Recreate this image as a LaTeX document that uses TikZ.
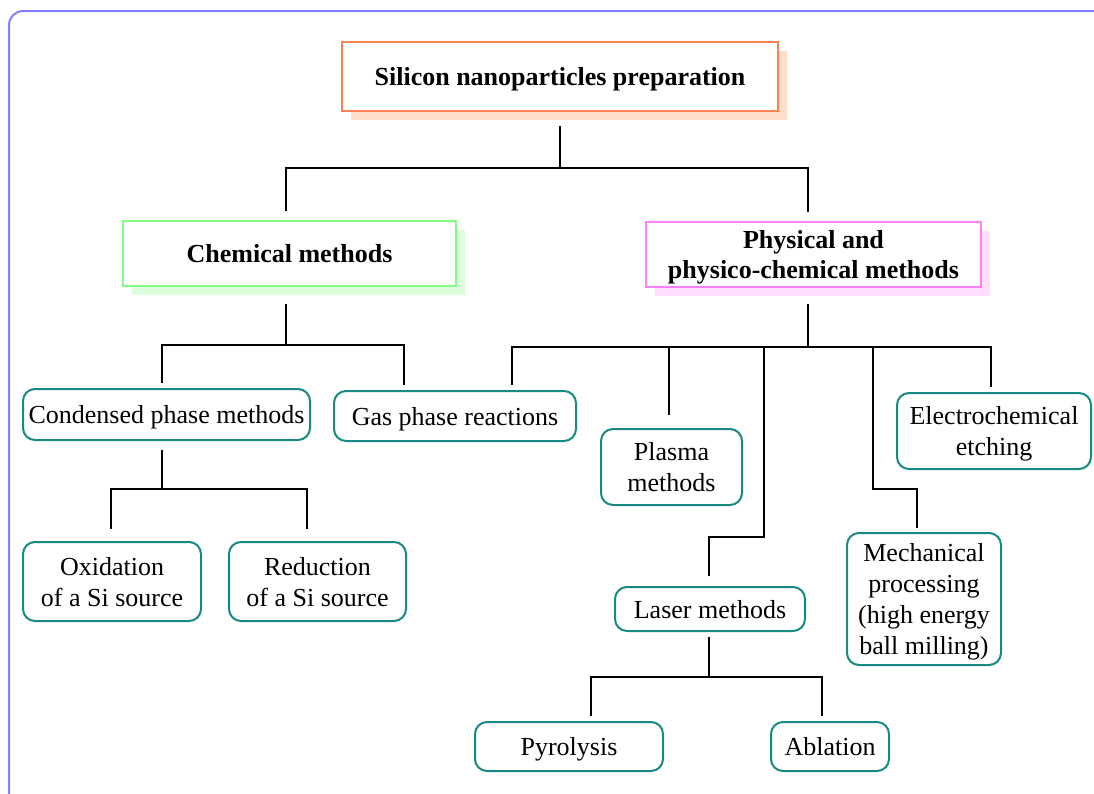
\documentclass[tikz,border=0pt]{standalone}
\usepackage{fontspec}
\setmainfont{Liberation Serif}
\usetikzlibrary{shadows}

\definecolor{framecol}{HTML}{8080FF}
\definecolor{topcol}{HTML}{FF8050}
\definecolor{topsh}{HTML}{FFDCCC}
\definecolor{chemcol}{HTML}{80FF80}
\definecolor{chemsh}{HTML}{DDFFDD}
\definecolor{physcol}{HTML}{FF80FF}
\definecolor{physsh}{HTML}{FFDDFF}
\definecolor{leafcol}{HTML}{178A85}

\tikzset{
  head/.style={draw, line width=2pt, fill=white, align=center, inner sep=0pt, text depth=0pt,
    font=\fontsize{26}{30}\selectfont\bfseries},
  leaf/.style={draw=leafcol, line width=2pt, rounded corners=12pt, align=center, inner sep=0pt, text depth=0pt},
  link/.style={line width=2.2pt},
  frame/.style={draw=framecol, line width=2pt, rounded corners=14pt}
}

\begin{document}
\begin{tikzpicture}[x=1pt,y=-1pt,font=\fontsize{26}{31}\selectfont]
            \useasboundingbox (0,0) rectangle (1094,793);
            \draw[frame] (9,11) rectangle (1140,840);

            \node[head,draw=topcol,drop shadow={shadow xshift=9pt,shadow yshift=-9pt,fill=topsh,opacity=1},
                minimum width=436pt,minimum height=69pt] (A) at (560,76.5) {Silicon nanoparticles preparation};
            \node[head,draw=chemcol,drop shadow={shadow xshift=9pt,shadow yshift=-9pt,fill=chemsh,opacity=1},
                minimum width=333pt,minimum height=65pt] (B) at (289.5,253.5) {Chemical methods};
            \node[head,draw=physcol,drop shadow={shadow xshift=9pt,shadow yshift=-9pt,fill=physsh,opacity=1},
                minimum width=335pt,minimum height=65pt] (C) at (813.5,254.5) {Physical and\\physico-chemical methods};

            \node[leaf,minimum width=287pt,minimum height=51pt] (D) at (166.5,414.5) {Condensed phase methods};
            \node[leaf,minimum width=242pt,minimum height=50pt] (E) at (455,416) {Gas phase reactions};
            \node[leaf,minimum width=141pt,minimum height=76pt] (F) at (671.5,467) {Plasma\\methods};
            \node[leaf,minimum width=194pt,minimum height=76pt] (G) at (994,431) {Electrochemical\\etching};
            \node[leaf,minimum width=178pt,minimum height=79pt] (H) at (112,581.5) {Oxidation\\of a Si source};
            \node[leaf,minimum width=177pt,minimum height=79pt] (I) at (317.5,581.5) {Reduction\\of a Si source};
            \node[leaf,minimum width=190pt,minimum height=44pt] (J) at (710,609) {Laser methods};
            \node[leaf,minimum width=154pt,minimum height=132pt] (K) at (924,599) {Mechanical\\processing\\(high energy\\ball milling)};
            \node[leaf,minimum width=188pt,minimum height=49pt] (L) at (569,746.5) {Pyrolysis};
            \node[leaf,minimum width=118pt,minimum height=49pt] (M) at (830,746.5) {Ablation};

            % junctions
            \coordinate (t) at (558,168);
            \coordinate (c) at (286,345);
            \coordinate (d) at (162,489);
            \coordinate (p) at (808,347);
            \coordinate (q) at (764,537);
            \coordinate (r) at (873,489);
            \coordinate (l) at (709,677);

            \draw[link] ([yshift=-14pt]A.south) -- (A.south |- t);
            \draw[link] ([xshift=-3.5pt,yshift=9pt]B.north) |- (t) -| ([xshift=-5.5pt,yshift=9pt]C.north);

            \draw[link] ([xshift=-3.5pt,yshift=-17pt]B.south) -- (c);
            \draw[link] ([xshift=-4.5pt,yshift=5pt]D.north) |- (c) -| ([xshift=-51pt,yshift=5pt]E.north);

            \draw[link] ([xshift=-4.5pt,yshift=-9pt]D.south) -- (d);
            \draw[link] ([xshift=-1pt,yshift=12pt]H.north) |- (d) -| ([xshift=-10.5pt,yshift=12pt]I.north);

            \draw[link] ([xshift=-5.5pt,yshift=-16pt]C.south) -- (p);
            \draw[link] ([xshift=57pt,yshift=5pt]E.north) |- (p) -| ([xshift=-3pt,yshift=5pt]G.north);
            \draw[link] ([xshift=-2.5pt,yshift=13pt]F.north) |- (p);
            \draw[link] ([xshift=-1pt,yshift=10pt]J.north) |- (q) -- (q |- p);
            \draw[link] ([xshift=-7pt,yshift=4pt]K.north) |- (r) -- (r |- p);

            \draw[link] ([xshift=-1pt,yshift=-5pt]J.south) -- (l);
            \draw[link] ([xshift=22pt,yshift=5pt]L.north) |- (l) -| ([xshift=-8pt,yshift=5pt]M.north);
        \end{tikzpicture}
\end{document}
